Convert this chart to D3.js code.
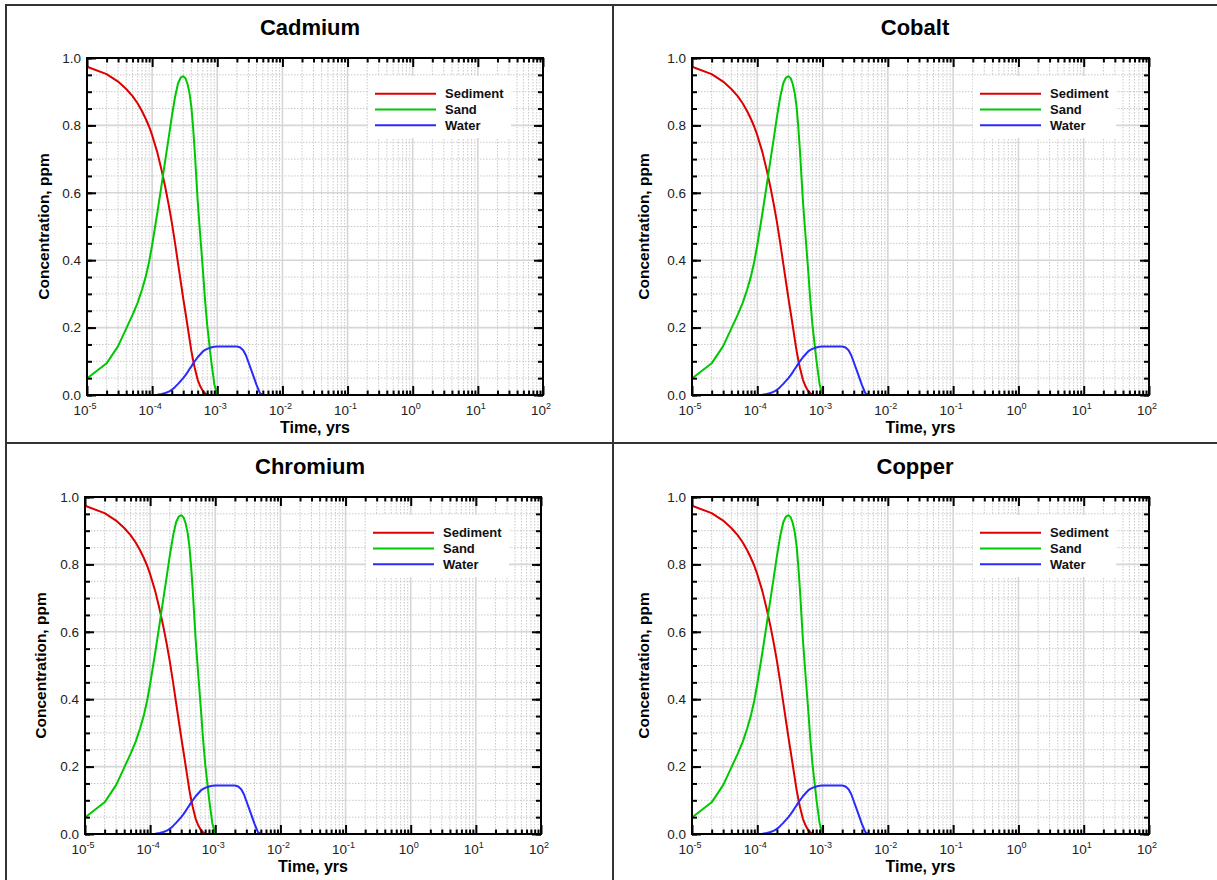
<!DOCTYPE html>
<html><head><meta charset="utf-8">
<script src="https://cdn.jsdelivr.net/npm/d3@7"></script>
<style>
body{margin:0;background:#fff}
svg{display:block}
text{font-family:"Liberation Sans",Arial,Helvetica,sans-serif}
</style>
</head><body>
<svg id="chart" width="1217" height="880"></svg>
<script>
// ---------- data ----------
const panelNames = ["Cadmium", "Cobalt", "Chromium", "Copper"];
const seriesNames = ["Sediment", "Sand", "Water"];
const times = [1e-5,2e-5,3e-5,4e-5,5e-5,6e-5,7e-5,8e-5,9e-5,1e-4,1.2e-4,1.4e-4,1.6e-4,1.8e-4,2e-4,2.25e-4,2.5e-4,2.75e-4,3e-4,3.25e-4,3.5e-4,3.75e-4,4e-4,4.25e-4,4.5e-4,5e-4,5.5e-4,6e-4,6.5e-4,7e-4,8e-4,9e-4,1e-3,1.2e-3,1.5e-3,2e-3,2.25e-3,2.5e-3,2.75e-3,3e-3,3.5e-3,4e-3,4.5e-3,5e-3];
const sediment = [0.974,0.952,0.93,0.908,0.887,0.865,0.842,0.819,0.796,0.771,0.72,0.666,0.614,0.563,0.513,0.45,0.39,0.336,0.287,0.244,0.204,0.166,0.131,0.104,0.081,0.045,0.025,0.012,0.005,0.0,null,null,null,null,null,null,null,null,null,null,null,null,null,null];
const sand = [0.049,0.094,0.145,0.197,0.238,0.274,0.313,0.352,0.396,0.445,0.54,0.625,0.70,0.765,0.825,0.885,0.925,0.942,0.946,0.94,0.922,0.895,0.855,0.795,0.725,0.576,0.468,0.373,0.28,0.208,0.107,0.032,0.0,null,null,null,null,null,null,null,null,null,null,null];
const water = [null,null,null,null,null,null,null,null,null,0,0.001,0.003,0.006,0.01,0.015,0.024,0.033,0.042,0.05,0.059,0.068,0.077,0.085,0.093,0.1,0.112,0.121,0.129,0.134,0.137,0.141,0.143,0.144,0.144,0.144,0.144,0.141,0.133,0.118,0.098,0.062,0.03,0.006,0];
const yTickValues = [0, 0.2, 0.4, 0.6, 0.8, 1.0];
const xDecadeExps = [-5, -4, -3, -2, -1, 0, 1, 2];
const xAxisTitle = "Time, yrs";
const yAxisTitle = "Concentration, ppm";

// ---------- style / layout ----------
const seriesColors = ["#dd0000", "#00c800", "#2a2aff"];
const layout = [
  {x:87,  y:58,  w:456, h:337, cx:310, titleY:35,  yTitleX:49},
  {x:692, y:58,  w:457, h:337, cx:915, titleY:35,  yTitleX:649},
  {x:85,  y:497, w:456, h:337, cx:310, titleY:474, yTitleX:46},
  {x:692, y:497, w:457, h:337, cx:915, titleY:474, yTitleX:649}
];

const svg = d3.select("#chart");

// frame and dividers
svg.append("rect").attr("x",6).attr("y",5).attr("width",1230).attr("height",900)
  .attr("fill","none").attr("stroke","#333").attr("stroke-width",2);
svg.append("line").attr("x1",613).attr("x2",613).attr("y1",5).attr("y2",880)
  .attr("stroke","#333").attr("stroke-width",2);
svg.append("line").attr("x1",6).attr("x2",1217).attr("y1",443).attr("y2",443)
  .attr("stroke","#333").attr("stroke-width",2);

const seriesData = [sediment, sand, water];

panelNames.forEach((name, pi) => {
  const L = layout[pi];
  const g = svg.append("g").attr("transform", `translate(${L.x},${L.y})`);
  const x = d3.scaleLog().domain([1e-5, 1e2]).range([0, L.w]);
  const y = d3.scaleLinear().domain([0, 1]).range([L.h, 0]);

  // grid
  const minorX = [];
  for (let e = -5; e < 2; e++) for (let k = 2; k <= 9; k++) minorX.push(k * Math.pow(10, e));
  const majorX = xDecadeExps.slice(1, -1).map(e => Math.pow(10, e));
  const minorY = d3.range(1, 20).map(i => i * 0.05).filter(v => Math.abs(v*5 - Math.round(v*5)) > 1e-6);
  const majorY = yTickValues.slice(1, -1);

  const grid = g.append("g");
  grid.selectAll(".mx").data(minorX).join("line")
    .attr("x1", d => x(d)).attr("x2", d => x(d)).attr("y1", 0).attr("y2", L.h)
    .attr("stroke", "#c9c9c9").attr("stroke-width", 1).attr("stroke-dasharray", "1.5,1.5");
  grid.selectAll(".my").data(minorY).join("line")
    .attr("y1", d => y(d)).attr("y2", d => y(d)).attr("x1", 0).attr("x2", L.w)
    .attr("stroke", "#c9c9c9").attr("stroke-width", 1).attr("stroke-dasharray", "1.5,1.5");
  grid.selectAll(".Mx").data(majorX).join("line")
    .attr("x1", d => x(d)).attr("x2", d => x(d)).attr("y1", 0).attr("y2", L.h)
    .attr("stroke", "#d6d6d6").attr("stroke-width", 1.6);
  grid.selectAll(".My").data(majorY).join("line")
    .attr("y1", d => y(d)).attr("y2", d => y(d)).attr("x1", 0).attr("x2", L.w)
    .attr("stroke", "#d6d6d6").attr("stroke-width", 1.6);

  // legend box (white, covers grid)
  const lg = g.append("g").attr("transform", "translate(281,18)");
  lg.append("rect").attr("x",0).attr("y",0).attr("width",143).attr("height",62).attr("fill","#fff");

  // curves
  seriesData.forEach((vals, si) => {
    const pts = times.map((t, i) => [t, vals[i]]);
    const line = d3.line()
      .defined(d => d[1] !== null)
      .x(d => x(d[0])).y(d => y(d[1]))
      .curve(d3.curveLinear);
    g.append("path").datum(pts).attr("d", line)
      .attr("fill", "none").attr("stroke", seriesColors[si]).attr("stroke-width", 2)
      .attr("stroke-linejoin", "round");
  });

  // legend entries
  seriesNames.forEach((s, si) => {
    const yy = 17.7 + si * 15.8;
    lg.append("line").attr("x1", 7).attr("x2", 68).attr("y1", yy).attr("y2", yy)
      .attr("stroke", seriesColors[si]).attr("stroke-width", 2);
    lg.append("text").attr("x", 77).attr("y", yy + 4.5).text(s)
      .attr("font-size", 13).attr("font-weight", "bold").attr("fill", "#111");
  });

  // axes (ticks inward)
  const majorTicksX = xDecadeExps.map(e => Math.pow(10, e));
  const minorTicksY = d3.range(0, 21).map(i => i * 0.05);
  const axB = g.append("g").attr("transform", `translate(0,${L.h})`);
  axB.call(d3.axisBottom(x).tickValues(minorX).tickSize(-4.5).tickFormat(""));
  axB.call(g2 => g2.append("g").call(d3.axisBottom(x).tickValues(majorTicksX).tickSize(-9).tickFormat("")));
  const axT = g.append("g");
  axT.call(d3.axisTop(x).tickValues(minorX).tickSize(-4.5).tickFormat(""));
  axT.call(g2 => g2.append("g").call(d3.axisTop(x).tickValues(majorTicksX).tickSize(-9).tickFormat("")));
  const axL = g.append("g");
  axL.call(d3.axisLeft(y).tickValues(minorTicksY).tickSize(-5).tickFormat(""));
  axL.call(g2 => g2.append("g").call(d3.axisLeft(y).tickValues(yTickValues).tickSize(-9).tickPadding(6).tickFormat(d3.format(".1f"))));
  const axR = g.append("g").attr("transform", `translate(${L.w},0)`);
  axR.call(d3.axisRight(y).tickValues(minorTicksY).tickSize(-5).tickFormat(""));
  axR.call(g2 => g2.append("g").call(d3.axisRight(y).tickValues(yTickValues).tickSize(-9).tickFormat("")));

  [axB, axT, axL, axR].forEach(a => {
    a.selectAll(".domain").remove();
    a.selectAll(".tick line").attr("stroke", "#000").attr("stroke-width", 1.3);
  });
  [axB, axT, axL, axR].forEach(a => a.selectAll("g g .tick line").attr("stroke-width", 2));
  axL.selectAll("text").attr("font-size", 13.5).attr("fill", "#222")
    .attr("font-family", '"Liberation Sans",Arial,sans-serif');

  // plot border
  g.append("rect").attr("x",0).attr("y",0).attr("width",L.w).attr("height",L.h)
    .attr("fill","none").attr("stroke","#000").attr("stroke-width",2);

  // x tick labels with superscript
  xDecadeExps.forEach(e => {
    const t = g.append("text").attr("x", x(Math.pow(10, e)) - 2).attr("y", L.h + 20)
      .attr("text-anchor", "middle").attr("font-size", 13.5).attr("fill", "#222");
    t.append("tspan").text("10");
    t.append("tspan").attr("dy", -6).attr("font-size", 9).text(String(e));
  });

  // titles
  svg.append("text").attr("x", L.cx).attr("y", L.titleY).attr("text-anchor", "middle")
    .attr("font-size", 22).attr("font-weight", "bold").attr("fill", "#000").text(name);
  g.append("text").attr("x", L.w / 2).attr("y", L.h + 38).attr("text-anchor", "middle")
    .attr("font-size", 16).attr("font-weight", "bold").attr("fill", "#000").text(xAxisTitle);
  svg.append("text").attr("transform", `translate(${L.yTitleX},${L.y + L.h / 2}) rotate(-90)`)
    .attr("text-anchor", "middle").attr("font-size", 15.5).attr("font-weight", "bold")
    .attr("fill", "#000").text(yAxisTitle);
});
</script>
</body></html>
